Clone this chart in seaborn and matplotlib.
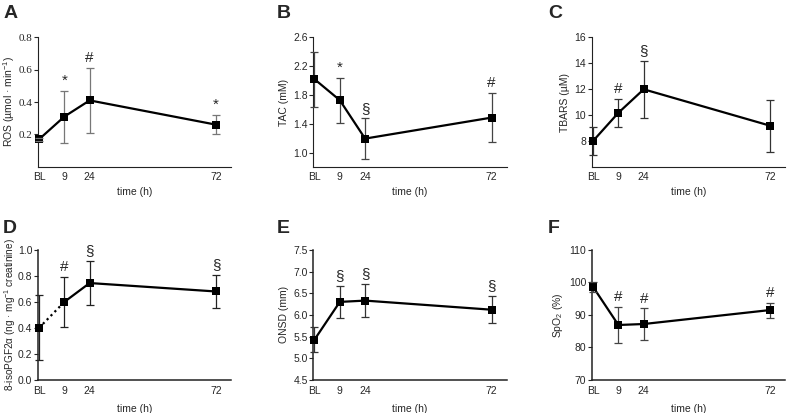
import matplotlib
matplotlib.use("Agg")
import matplotlib.pyplot as plt
import seaborn as sns
from matplotlib.ticker import FormatStrFormatter

sns.set_style("ticks")
plt.rcParams['font.family'] = ['Liberation Sans', 'DejaVu Sans']
plt.rcParams['mathtext.fontset'] = 'custom'
plt.rcParams['mathtext.rm'] = 'Liberation Sans'
plt.rcParams['mathtext.it'] = 'Liberation Sans:italic'

# time points (BL, 9 h, 24 h, 72 h) drawn on a compressed axis
time_labels = ['BL', '9', '24', '72']
time_pos = [0, 1, 2, 7]

ros_mean = [0.17, 0.31, 0.41, 0.26]
ros_sd = [0.01, 0.16, 0.20, 0.06]
ros_sig = ['', '*', '#', '*']

tac_mean = [2.02, 1.73, 1.20, 1.49]
tac_sd = [0.38, 0.31, 0.28, 0.34]
tac_sig = ['', '*', '§', '#']

tbars_mean = [8.0, 10.17, 11.98, 9.17]
tbars_sd = [1.10, 1.07, 2.22, 2.01]
tbars_sig = ['', '#', '§', '']

iso_mean = [0.40, 0.60, 0.745, 0.68]
iso_sd = [0.25, 0.19, 0.17, 0.13]
iso_sig = ['', '#', '§', '§']

onsd_mean = [5.43, 6.30, 6.33, 6.12]
onsd_sd = [0.29, 0.37, 0.385, 0.31]
onsd_sig = ['', '§', '§', '§']

spo2_mean = [98.6, 86.9, 87.2, 91.5]
spo2_sd = [1.6, 5.5, 4.8, 2.3]
spo2_sig = ['', '#', '#', '#']

panels = [
    dict(letter='A', mean=ros_mean, sd=ros_sd, sig=ros_sig, ylabel='ROS (µmol · min$^{-1}$)',
         ylim=(0, 0.8), yticks=[0.2, 0.4, 0.6, 0.8], fmt='%.1f', ecolor='#777777', row=0),
    dict(letter='B', mean=tac_mean, sd=tac_sd, sig=tac_sig, ylabel='TAC (mM)',
         ylim=(0.81, 2.6), yticks=[1.0, 1.4, 1.8, 2.2, 2.6], fmt='%.1f', ecolor='#444444', row=0),
    dict(letter='C', mean=tbars_mean, sd=tbars_sd, sig=tbars_sig, ylabel='TBARS (µM)',
         ylim=(6, 16), yticks=[8, 10, 12, 14, 16], fmt='%d', ecolor='#333333', row=0),
    dict(letter='D', mean=iso_mean, sd=iso_sd, sig=iso_sig,
         ylabel='8-isoPGF2α (ng · mg$^{-1}$ creatinine)',
         ylim=(0, 1.0), yticks=[0, 0.2, 0.4, 0.6, 0.8, 1.0], fmt='%.1f', ecolor='#222222', row=1),
    dict(letter='E', mean=onsd_mean, sd=onsd_sd, sig=onsd_sig, ylabel='ONSD (mm)',
         ylim=(4.5, 7.5), yticks=[4.5, 5.0, 5.5, 6.0, 6.5, 7.0, 7.5], fmt='%.1f', ecolor='#333333', row=1),
    dict(letter='F', mean=spo2_mean, sd=spo2_sd, sig=spo2_sig, ylabel='SpO$_2$ (%)',
         ylim=(70, 110), yticks=[70, 80, 90, 100, 110], fmt='%d', ecolor='#444444', row=1),
]

fig = plt.figure(figsize=(7.87, 4.13), dpi=100)

lefts = [0.048, 0.398, 0.752]
width = 0.246
row_bottom = [0.596, 0.080]
row_height = [0.314, 0.315]
letter_x = [0.004, 0.352, 0.696]
letter_y = [0.988, 0.467]

for i, p in enumerate(panels):
    col = i % 3
    row = p['row']
    ax = fig.add_axes([lefts[col], row_bottom[row], width, row_height[row]])

    if p['letter'] == 'D':
        sns.lineplot(x=time_pos[1:], y=p['mean'][1:], ax=ax, color='black', lw=1.6,
                     marker='s', markersize=6, markeredgewidth=0)
        sns.lineplot(x=time_pos[:2], y=p['mean'][:2], ax=ax, color='black', lw=1.6,
                     linestyle=(0, (1, 1.5)), marker='s', markersize=6, markeredgewidth=0)
    else:
        sns.lineplot(x=time_pos, y=p['mean'], ax=ax, color='black', lw=1.6,
                     marker='s', markersize=6, markeredgewidth=0)
    ax.errorbar(time_pos, p['mean'], yerr=p['sd'], fmt='none', ecolor=p['ecolor'],
                elinewidth=0.9, capsize=2.6, capthick=0.9, clip_on=False, zorder=1)
    for ln in ax.lines:
        ln.set_clip_on(False)
        ln.set_zorder(4)

    for x, m, s, t in zip(time_pos, p['mean'], p['sd'], p['sig']):
        if t:
            ax.annotate(t, (x, m + s), xytext=(0, 2), textcoords='offset points',
                        ha='center', va='bottom', fontsize=11)

    ax.set_xlim(-0.05, 7.6)
    ax.set_ylim(*p['ylim'])
    ax.set_xticks(time_pos)
    ax.set_xticklabels(time_labels)
    ax.set_yticks(p['yticks'])
    ax.yaxis.set_major_formatter(FormatStrFormatter(p['fmt']))
    ax.tick_params(axis='x', length=0, labelsize=7.5, pad=4)
    ax.tick_params(axis='y', length=3, width=0.8, labelsize=7.5, pad=1)
    if p['letter'] == 'A':
        for lab in ax.get_yticklabels():
            lab.set_family('Liberation Serif')
            lab.set_fontsize(8)
    sns.despine(ax=ax)
    sw = 0.8 if row == 0 else 1.1
    for side in ['left', 'bottom']:
        ax.spines[side].set_linewidth(sw)
        ax.spines[side].set_color('#222222')
    ax.set_xlabel('time (h)', fontsize=7.5, labelpad=3 if row == 0 else 6)
    if p['letter'] == 'D':
        ax.set_ylabel(p['ylabel'], fontsize=7.2)
        ax.yaxis.set_label_coords(-0.1, 0.5)
    else:
        ax.set_ylabel(p['ylabel'], fontsize=7.5, labelpad=1 if p['letter'] == 'A' else 3)

    fig.text(letter_x[col], letter_y[row], p['letter'], fontsize=14, fontweight='bold',
             ha='left', va='top')

fig.savefig('out.png', dpi=100)
